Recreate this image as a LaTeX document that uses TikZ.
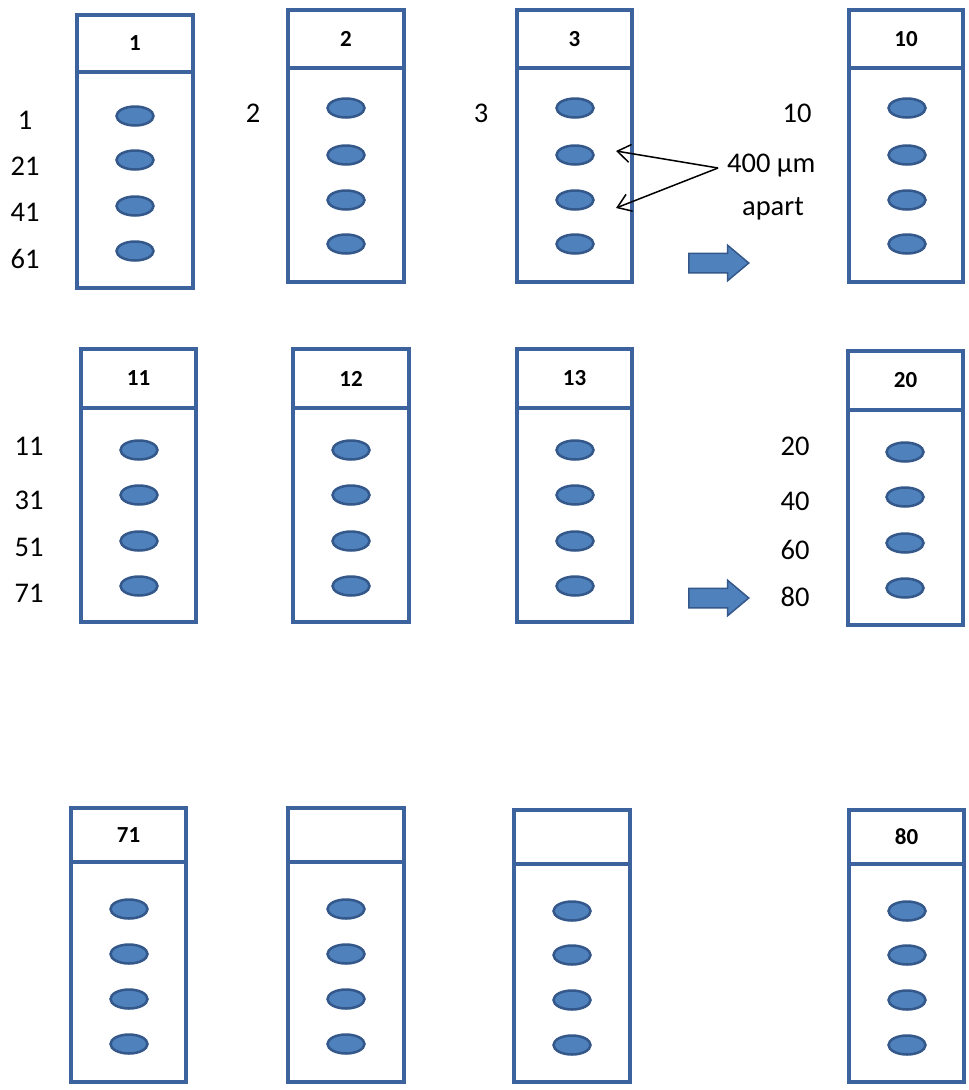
\documentclass[tikz,border=0pt]{standalone}
\usepackage{fontspec}
\setmainfont{Carlito}
\usetikzlibrary{shapes.geometric,shapes.arrows,arrows.meta}
\definecolor{slideblue}{RGB}{60,99,158}
\definecolor{spotfill}{RGB}{79,129,189}
\definecolor{spotline}{RGB}{52,88,138}
\tikzset{
  hdr/.style={draw=slideblue,line width=3.5pt,rectangle,inner sep=0pt,outer sep=0pt,font=\bfseries\fontsize{23}{25}\selectfont},
  bodybox/.style={draw=slideblue,line width=3.5pt,rectangle,inner sep=0pt,outer sep=0pt},
  spot/.style={ellipse,draw=spotline,fill=spotfill,line width=2.5pt,minimum width=37pt,minimum height=19pt,inner sep=0pt},
  lbl/.style={font=\fontsize{28.5}{31}\selectfont,inner sep=0pt},
  blockarrow/.style={single arrow,draw=spotline,fill=spotfill,line width=1.5pt,inner xsep=0pt,inner ysep=9pt,minimum height=60pt,minimum width=35pt,single arrow head extend=8pt,single arrow tip angle=80,anchor=tail},
  callout/.style={draw=black,line width=1.5pt,-{Straight Barb[length=13pt,width=18pt,line width=1.5pt]}}
}
\newcommand\myslide[7]{%
  \node[hdr,minimum width=#4pt,minimum height=#5pt,anchor=north west] (#1h) at (#2,#3) {#7};
  \node[bodybox,minimum width=#4pt,minimum height=#6pt,anchor=north] (#1b) at (#1h.south) {};
}
\newcommand\myspots[6]{%
  \node[spot] (#1e1) at (#2,#3) {};
  \node[spot] (#1e2) at (#2,#4) {};
  \node[spot] (#1e3) at (#2,#5) {};
  \node[spot] (#1e4) at (#2,#6) {};
}
\begin{document}
\begin{tikzpicture}[x=1pt,y=-1pt]
\useasboundingbox[fill=white] (0,0) rectangle (969,1090);
% row 1
\myslide{sa}{77}{15}{116}{57}{216}{1}
\myslide{sb}{288}{10}{116}{58}{214}{2}
\myslide{sc}{517}{10}{115}{58}{214}{3}
\myslide{sd}{849}{10}{114}{58}{214}{10}
\myspots{sa}{135}{116}{160}{206}{251}
\myspots{sb}{346}{108}{155}{200}{244}
\myspots{sc}{575}{108}{155}{200}{244}
\myspots{sd}{907}{108}{155}{200}{244}
% row 2
\myslide{se}{81}{349}{115}{59}{214}{11}
\myslide{sf}{293}{349}{116}{59}{214}{12}
\myslide{sg}{517}{349}{115}{59}{214}{13}
\myslide{sh}{848}{351}{115}{59}{215}{20}
\myspots{se}{139}{450}{495}{541}{586}
\myspots{sf}{351}{450}{495}{541}{586}
\myspots{sg}{575}{450}{495}{541}{586}
\myspots{sh}{905}{452}{497}{543}{588}
% row 3
\myslide{si}{71}{808}{115}{54}{220}{71}
\myslide{sj}{288}{808}{116}{54}{220}{}
\myslide{sk}{514}{810}{116}{54}{218}{}
\myslide{sl}{849}{810}{115}{54}{218}{80}
\myspots{si}{129}{909}{954}{999}{1044}
\myspots{sj}{346}{909}{954}{999}{1044}
\myspots{sk}{572}{911}{955}{1000}{1045}
\myspots{sl}{907}{911}{955}{1000}{1045}
% labels row 1
\node[lbl] (l1) at (25,120) {1};
\node[lbl] (l21) at (25,166) {21};
\node[lbl] (l41) at (25,212) {41};
\node[lbl] (l61) at (25,259) {61};
\node[lbl] (l2) at (253,113) {2};
\node[lbl] (l3) at (481,113) {3};
\node[lbl] (l10) at (797,113) {10};
\node[lbl,anchor=west] (t400) at (727,166) {400 µm};
\node[lbl] (tapart) at (773,209) {apart};
% labels row 2
\node[lbl] (l11) at (29,446) {11};
\node[lbl] (l31) at (29,500) {31};
\node[lbl] (l51) at (29,547) {51};
\node[lbl] (l71) at (29,593) {71};
\node[lbl] (l20) at (795,446) {20};
\node[lbl] (l40) at (795,501) {40};
\node[lbl] (l60) at (795,550) {60};
\node[lbl] (l80) at (795,597) {80};
% callout arrows
\coordinate (cs) at (718,168);
\coordinate (ta) at (616,151);
\coordinate (tb) at (616,208);
\draw[callout] (cs) -- (ta);
\draw[callout] (cs) -- (tb);
% block arrows
\node[blockarrow] (ba1) at (688,263) {};
\node[blockarrow] (ba2) at (688,598) {};
\end{tikzpicture}
\end{document}
